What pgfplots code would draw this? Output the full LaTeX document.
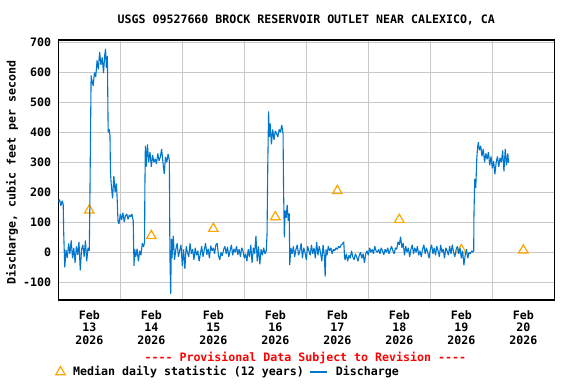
\documentclass[border=0pt]{standalone}
\usepackage{pgfplots}
\pgfplotsset{compat=1.18}
\usepackage{fontspec}
\setmainfont{DejaVu Sans Mono}
\definecolor{usgsblue}{RGB}{0,118,204}
\definecolor{medorange}{RGB}{255,165,0}
\definecolor{gridgray}{RGB}{200,200,200}
\newcommand{\uf}{\fontsize{11.65}{13}\selectfont\bfseries}
\begin{document}
\bfseries
\begin{tikzpicture}[x=1bp,y=1bp]
\path (0,0) rectangle (576,384);
\begin{axis}[
  at={(58.3bp,84bp)}, anchor=south west,
  scale only axis, width=496bp, height=260bp,
  clip mode=individual,
  xmin=0, xmax=192, ymin=-159, ymax=708,
  xtick={12,36,60,84,108,132,156,180},
  xticklabels={{Feb\\13\\2026},{Feb\\14\\2026},{Feb\\15\\2026},{Feb\\16\\2026},{Feb\\17\\2026},{Feb\\18\\2026},{Feb\\19\\2026},{Feb\\20\\2026}},
  minor xtick={24,48,72,96,120,144,168},
  xminorgrids, ymajorgrids, xmajorgrids=false,
  ytick={-100,0,100,200,300,400,500,600,700},
  major tick length=0pt, minor tick length=0pt,
  grid style={gridgray, line width=1bp},
  minor grid style={gridgray, line width=1bp},
  axis line style={line width=1.2bp},
  /pgf/number format/assume math mode=true,
  tick label style={font=\uf},
  xticklabel style={align=center, anchor=north, inner sep=0pt, yshift=-10bp},
  yticklabel style={anchor=east, inner sep=0pt, xshift=-7bp},
  title={USGS 09527660 BROCK RESERVOIR OUTLET NEAR CALEXICO, CA},
  title style={at={(axis description cs:0.5,1)}, anchor=base, yshift=11bp, font=\uf},
  ylabel={Discharge, cubic feet per second},
  ylabel style={at={(axis description cs:-0.0933,0.49)}, anchor=center, font=\uf},
  legend style={at={(axis description cs:-0.0056,-0.277)}, anchor=west, draw=none, fill=none,
    inner sep=0pt, legend columns=2, font=\uf,
    /tikz/every odd column/.append style={column sep=6bp},
    /tikz/every even column/.append style={column sep=4bp}},
  legend cell align=left,
]
\addplot[only marks, mark=triangle, mark size=5.5pt, medorange, mark options={line width=1.2bp}]
  coordinates {(12,140) (36,55) (60,79) (84,118) (108,205) (132,109) (156,8) (180,7)};
\addlegendentry{Median daily statistic (12 years)}
\addplot[usgsblue, line width=1.1bp, line join=bevel] table[row sep=\\] {
t q\\
0 168\\ 0.5 176\\ 1 155\\ 1.5 172\\ 1.9 160\\ 2.1 62\\ 2.5 -50\\ 3 8\\ 3.5 -18\\ 4 30\\
4.5 -5\\ 5 40\\ 5.5 -20\\ 6 15\\ 6.5 -35\\ 7 20\\ 7.5 -8\\ 8 35\\ 8.5 -60\\ 9 10\\
9.5 25\\ 10 -15\\ 10.5 40\\ 11 -30\\ 11.5 15\\ 12 5\\ 12.2 150\\ 12.4 330\\ 12.7 590\\ 13 575\\
13.5 555\\ 14 600\\ 14.5 585\\ 15 640\\ 15.5 610\\ 16 668\\ 16.5 625\\ 17 650\\ 17.5 598\\ 18 660\\
18.3 678\\ 18.6 615\\ 19 655\\ 19.3 400\\ 19.7 410\\ 20 390\\ 20.2 265\\ 20.5 225\\ 21 180\\ 21.5 255\\
22 200\\ 22.5 230\\ 22.8 175\\ 23.1 105\\ 23.5 95\\ 24 128\\ 24.5 108\\ 25 132\\ 25.5 102\\ 26 122\\
26.5 128\\ 27 110\\ 27.5 125\\ 28 118\\ 28.5 128\\ 29 105\\ 29.3 -45\\ 29.6 10\\ 30 -15\\ 30.5 12\\
31 -30\\ 31.5 5\\ 32 -10\\ 32.5 30\\ 33 18\\ 33.4 35\\ 33.5 200\\ 33.7 355\\ 34 285\\ 34.5 360\\
35 300\\ 35.5 335\\ 36 285\\ 36.5 325\\ 37 300\\ 37.5 312\\ 38 295\\ 38.5 330\\ 39 305\\ 39.5 318\\
40 345\\ 40.5 300\\ 41 262\\ 41.5 318\\ 42 300\\ 42.5 328\\ 43 305\\ 43.2 -10\\ 43.5 -139\\ 43.8 45\\
44 -20\\ 44.5 55\\ 45 -25\\ 45.5 10\\ 46 30\\ 46.5 -15\\ 47 5\\ 47.5 25\\ 48 -45\\ 48.5 10\\
49 -55\\ 49.5 20\\ 50 0\\ 50.5 -15\\ 51 30\\ 51.5 -5\\ 52 10\\ 52.5 -25\\ 53 15\\ 53.5 -10\\
54 5\\ 54.5 -30\\ 55 -5\\ 55.5 20\\ 56 -15\\ 56.5 8\\ 57 30\\ 57.5 -8\\ 58 12\\ 58.5 -20\\
59 22\\ 59.5 5\\ 60 15\\ 60.5 -5\\ 61 25\\ 61.5 30\\ 62 -10\\ 62.5 -25\\ 63 0\\ 63.5 -12\\
64 10\\ 64.5 20\\ 65 -5\\ 65.5 18\\ 66 -15\\ 66.5 5\\ 67 25\\ 67.5 -10\\ 68 12\\ 68.5 0\\
69 20\\ 69.5 -8\\ 70 10\\ 70.5 -15\\ 71 15\\ 71.5 5\\ 72 -20\\ 72.5 -5\\ 73 -30\\ 73.5 10\\
74 -15\\ 74.5 25\\ 75 -35\\ 75.5 15\\ 76 -5\\ 76.5 55\\ 77 -30\\ 77.5 20\\ 78 -40\\ 78.5 10\\
79 -10\\ 79.5 15\\ 80 -5\\ 80.5 5\\ 80.8 60\\ 81.1 300\\ 81.4 470\\ 81.7 385\\ 82 430\\ 82.5 360\\
83 410\\ 83.5 375\\ 84 405\\ 84.5 395\\ 85 385\\ 85.5 410\\ 86 400\\ 86.5 425\\ 87 395\\ 87.2 210\\
87.5 50\\ 87.8 140\\ 88.2 115\\ 88.6 158\\ 89 105\\ 89.4 130\\ 89.6 -43\\ 90 15\\ 90.5 -5\\ 91 20\\
91.5 -15\\ 92 10\\ 92.5 25\\ 93 -10\\ 93.5 5\\ 94 30\\ 94.5 -20\\ 95 15\\ 95.5 0\\ 96 -25\\
96.5 20\\ 97 5\\ 97.5 -10\\ 98 25\\ 98.5 -5\\ 99 15\\ 99.5 -20\\ 100 35\\ 100.5 -10\\ 101 20\\
101.5 0\\ 102 -30\\ 102.5 25\\ 103 -15\\ 103.3 -81\\ 103.6 10\\ 104 -10\\ 104.5 20\\ 105 5\\ 105.5 15\\
106 -5\\ 106.5 10\\ 107 5\\ 107.5 15\\ 108 10\\ 108.5 20\\ 109 15\\ 109.5 25\\ 110 28\\ 110.5 35\\
110.8 -15\\ 111 -25\\ 111.5 -5\\ 112 -30\\ 112.5 -10\\ 113 -20\\ 113.5 5\\ 114 -15\\ 114.5 -25\\ 115 -5\\
115.5 -15\\ 116 -30\\ 116.5 -10\\ 117 0\\ 117.5 -20\\ 118 -5\\ 118.5 -35\\ 119 -5\\ 119.5 5\\ 120 -10\\
120.5 15\\ 121 0\\ 121.5 10\\ 122 -5\\ 122.5 20\\ 123 5\\ 123.5 0\\ 124 10\\ 124.5 -5\\ 125 15\\
125.5 5\\ 126 -8\\ 126.5 10\\ 127 0\\ 127.5 15\\ 128 -5\\ 128.5 8\\ 129 20\\ 129.5 5\\ 130 -5\\
130.5 15\\ 131 10\\ 131.5 35\\ 132 25\\ 132.5 52\\ 133 15\\ 133.5 30\\ 134 -10\\ 134.5 20\\ 135 0\\
135.5 15\\ 136 -15\\ 136.5 10\\ 137 25\\ 137.5 -5\\ 138 15\\ 138.5 0\\ 139 20\\ 139.5 -10\\ 140 5\\
140.5 -15\\ 141 10\\ 141.5 25\\ 142 -5\\ 142.5 15\\ 143 0\\ 143.5 -20\\ 144 10\\ 144.5 25\\ 145 -5\\
145.5 15\\ 146 -10\\ 146.5 20\\ 147 5\\ 147.5 -15\\ 148 25\\ 148.5 0\\ 149 10\\ 149.5 -20\\ 150 15\\
150.5 5\\ 151 -10\\ 151.5 20\\ 152 -5\\ 152.5 25\\ 153 0\\ 153.5 -15\\ 154 10\\ 154.5 20\\ 155 -5\\
155.5 15\\ 156 -20\\ 156.5 5\\ 157 -43\\ 157.5 -10\\ 158 10\\ 158.5 -20\\ 159 0\\ 159.5 -5\\ 160 5\\
160.5 0\\ 160.8 5\\ 160.9 128\\ 161.2 245\\ 161.6 215\\ 162 314\\ 162.3 350\\ 162.6 367\\ 163 340\\ 163.5 355\\
164 320\\ 164.5 345\\ 165 300\\ 165.5 330\\ 166 310\\ 166.5 335\\ 167 290\\ 167.5 320\\ 168 280\\ 168.5 305\\
169 260\\ 169.5 300\\ 170 320\\ 170.5 285\\ 171 315\\ 171.5 300\\ 172 340\\ 172.5 270\\ 173 345\\ 173.5 290\\
174 330\\ 174.3 298\\
};
\addlegendentry{Discharge}
\node[text=red, font=\uf, anchor=base] at (axis description cs:0.498,-0.238)
  {-\kern0pt-\kern0pt-\kern0pt- Provisional Data Subject to Revision -\kern0pt-\kern0pt-\kern0pt-};
\end{axis}
\end{tikzpicture}
\end{document}
